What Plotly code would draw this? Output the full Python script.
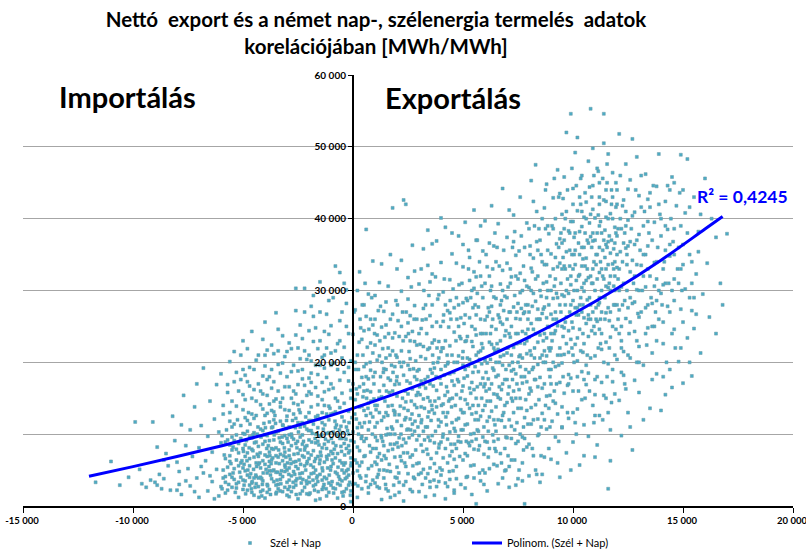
import plotly.graph_objects as go

# Net export vs. German solar + wind generation, values in thousand MWh: (x, y)
# x = net export (negative = import), y = solar + wind generation
band_far_import = [
    (-11.7,3.3),(-11.0,6.2),(-10.6,2.9),(-10.2,4.0),(-9.9,11.7),(-9.1,11.7),(-9.6,3.1),(-9.4,2.6),(-9.2,3.6),(-9.0,3.3),
    (-8.9,2.9),(-8.8,4.4),(-8.7,2.4),(-8.6,3.8),(-8.5,7.3),(-8.4,5.6),(-8.3,2.2),(-8.2,12.5),(-8.1,9.1),(-8.0,6.1),
    (-7.9,3.0),(-7.9,4.8),(-7.8,1.6),(-7.7,15.4),(-7.6,8.4),(-7.5,5.2),(-7.4,10.6),(-7.4,2.8),(-7.3,6.9),(-7.2,13.8),
    (-7.1,3.9),(-7.0,1.2),(-7.0,8.1),(-6.9,11.2),(-6.8,19.2),(-6.8,4.6),(-6.7,6.3),(-6.6,2.1),(-6.6,9.7),(-6.5,14.6),
    (-6.4,3.4),(-6.4,7.5),(-6.3,12.1),(-6.2,5.1),(-6.2,16.9),(-6.1,1.4),(-6.1,10.3),(-6.0,2.7),(-6.0,8.8),(-9.7,5.1),
    (-8.6,6.4),(-8.0,2.2),(-7.6,3.5),(-7.2,2.0),(-6.9,5.5),(-6.5,4.2),(-6.3,1.0),(-7.8,11.3),(-7.1,17.0),(-8.9,8.2),
]

band_mid_import = [
    (-5.9,3.9),(-5.9,12.8),(-5.8,6.6),(-5.8,1.8),(-5.7,9.2),(-5.7,15.8),(-5.6,4.4),(-5.6,20.1),(-5.5,2.6),(-5.5,7.8),
    (-5.4,21.5),(-5.4,11.4),(-5.4,5.2),(-5.3,3.1),(-5.3,13.9),(-5.2,8.7),(-5.2,1.2),(-5.1,17.6),(-5.1,6.0),(-5.0,10.1),
    (-5.0,3.6),(-5.0,23.0),(-4.9,4.9),(-4.9,14.8),(-4.8,2.2),(-4.8,7.4),(-4.8,11.9),(-4.7,19.3),(-4.7,5.6),(-4.6,24.3),
    (-4.6,3.2),(-4.6,9.5),(-4.5,1.5),(-4.5,16.2),(-4.5,6.8),(-4.4,12.6),(-4.4,4.1),(-4.3,8.3),(-4.3,21.0),(-4.3,2.7),
    (-4.2,10.7),(-4.2,5.3),(-4.1,18.1),(-4.1,3.5),(-4.1,13.5),(-4.0,7.1),(-4.0,1.1),(-4.0,25.6),(-3.9,4.6),(-3.9,9.8),
    (-3.9,15.4),(-3.8,2.3),(-3.8,6.2),(-3.8,11.7),(-3.7,22.4),(-3.7,3.8),(-3.7,8.0),(-3.6,17.3),(-3.6,5.0),(-3.6,13.1),
    (-3.5,1.7),(-3.5,10.3),(-3.5,26.9),(-3.4,6.8),(-3.4,3.0),(-3.4,19.7),(-3.3,8.9),(-3.3,14.4),(-3.3,4.4),(-3.2,2.0),
    (-3.2,11.3),(-3.2,23.7),(-3.1,7.5),(-3.1,5.7),(-3.1,16.6),(-3.0,3.3),(-3.0,9.4),(-3.0,12.5),
    (-5.6,7.0),(-5.3,9.9),(-5.1,4.0),(-4.9,8.5),(-4.7,2.9),(-4.4,6.0),(-4.2,2.0),(-4.0,9.0),(-3.9,6.9),(-3.7,10.9),
    (-3.5,4.7),(-3.3,7.2),(-3.1,2.6),(-5.7,5.4),(-5.5,11.0),(-4.8,4.3),(-4.5,10.2),(-4.3,3.9),(-4.1,8.6),(-3.8,4.9),
    (-3.6,9.2),(-3.4,2.4),(-3.2,6.3),(-3.0,5.0),(-5.2,3.3),(-4.6,7.9),(-4.0,5.8),(-3.5,8.1),(-5.8,8.9),(-4.9,12.3),
    (-4.2,14.1),(-3.6,12.0),(-3.3,18.5),(-5.4,17.3),(-4.4,20.3),(-3.9,21.7),(-3.1,20.8),(-5.0,19.0),(-4.1,23.2),(-3.4,24.6),
]

band_near_import = [
    (-2.9,1.3),(-2.9,7.8),(-2.9,13.3),(-2.8,4.2),(-2.8,10.0),(-2.8,21.9),(-2.7,2.6),(-2.7,6.1),(-2.7,16.0),(-2.6,30.3),
    (-2.6,8.7),(-2.6,3.5),(-2.6,12.2),(-2.5,5.2),(-2.5,18.8),(-2.5,1.0),(-2.4,9.6),(-2.4,25.2),(-2.4,3.9),(-2.3,7.0),
    (-2.3,14.5),(-2.3,2.1),(-2.2,30.3),(-2.2,11.1),(-2.2,5.6),(-2.1,20.4),(-2.1,3.1),(-2.1,8.4),(-2.0,13.0),(-2.0,1.6),
    (-2.0,6.6),(-1.9,27.8),(-1.9,4.5),(-1.9,10.5),(-1.9,17.2),(-1.8,2.8),(-1.8,7.7),(-1.8,22.9),(-1.7,12.4),(-1.7,5.0),
    (-1.7,0.8),(-1.6,15.3),(-1.6,9.0),(-1.6,3.4),(-1.5,19.6),(-1.5,6.4),(-1.5,31.2),(-1.4,2.3),(-1.4,11.6),(-1.4,8.1),
    (-1.3,24.3),(-1.3,4.0),(-1.3,14.0),(-1.2,6.9),(-1.2,1.4),(-1.2,17.9),(-1.1,10.2),(-1.1,3.2),(-1.1,28.6),(-1.0,5.5),
    (-1.0,12.8),(-1.0,21.3),(-0.9,2.5),(-0.9,8.8),(-0.9,16.4),(-0.8,33.4),(-0.8,4.7),(-0.8,10.9),(-0.7,7.3),(-0.7,1.1),
    (-0.7,19.0),(-0.6,13.7),(-0.6,3.7),(-0.6,25.8),(-0.5,6.0),(-0.5,9.4),(-0.5,15.7),(-0.4,2.0),(-0.4,22.1),(-0.4,11.8),
    (-0.3,4.9),(-0.3,8.0),(-0.3,30.1),(-0.2,17.4),(-0.2,2.9),(-0.2,13.2),(-0.1,6.7),(-0.1,0.6),(-0.1,20.2),
    (-2.9,5.3),(-2.8,2.0),(-2.7,9.3),(-2.6,6.2),(-2.5,11.6),(-2.4,7.8),(-2.3,4.6),(-2.2,2.6),(-2.1,10.7),(-2.0,9.2),
    (-1.9,7.1),(-1.8,11.4),(-1.7,3.0),(-1.6,6.9),(-1.5,9.7),(-1.4,5.3),(-1.3,8.6),(-1.2,3.8),(-1.1,12.0),(-1.0,7.6),
    (-0.9,5.9),(-0.8,2.4),(-0.7,9.9),(-0.6,6.3),(-0.5,3.5),(-0.4,8.7),(-0.3,11.0),(-0.2,4.3),(-0.1,9.1),(-2.8,15.0),
    (-2.5,14.1),(-2.2,16.8),(-1.9,13.8),(-1.6,18.3),(-1.3,15.9),(-1.0,17.0),(-0.7,14.6),(-0.4,18.6),(-0.1,15.0),(-2.7,19.6),
    (-2.3,23.3),(-2.0,21.0),(-1.7,24.8),(-1.4,20.7),(-1.1,23.9),(-0.8,21.6),(-0.5,27.0),(-0.2,24.0),(-2.6,27.2),(-1.8,29.3),
    (-1.2,26.7),(-0.6,32.5),(-0.3,28.2),(-2.9,9.9),(-2.4,1.7),(-1.5,1.0),(-0.9,12.9),(-0.2,7.4),(-2.1,5.9),(-1.6,12.6),
    (-1.2,10.1),(-0.5,1.9),
]

band_import_core = [
    (-5.95,2.4),(-5.85,7.1),(-5.75,10.6),(-5.65,3.0),(-5.55,5.9),(-5.45,8.2),(-5.35,1.9),(-5.25,12.0),(-5.15,4.7),(-5.05,6.3),
    (-4.95,2.9),(-4.85,9.1),(-4.75,13.0),(-4.65,4.5),(-4.55,7.7),(-4.45,2.6),(-4.35,10.0),(-4.25,6.0),(-4.15,3.8),(-4.05,11.5),
    (-3.95,5.1),(-3.85,8.4),(-3.75,1.6),(-3.65,6.7),(-3.55,12.6),(-3.45,3.6),(-3.35,9.5),(-3.25,4.9),(-3.15,7.0),(-3.05,10.8),
    (-2.95,2.3),(-2.85,6.5),(-2.75,11.9),(-2.65,4.4),(-2.55,8.1),(-2.45,13.4),(-2.35,3.2),(-2.25,9.0),(-2.15,5.0),(-2.05,7.4),
    (-1.95,1.8),(-1.85,10.1),(-1.75,6.2),(-1.65,3.9),(-1.55,12.1),(-1.45,7.0),(-1.35,2.6),(-1.25,9.3),(-1.15,5.3),(-1.05,13.6),
    (-0.95,3.4),(-0.85,7.9),(-0.75,11.3),(-0.65,4.1),(-0.55,8.3),(-0.45,1.4),(-0.35,6.0),(-0.25,10.5),(-0.15,3.3),(-0.05,12.3),
    (-5.9,5.0),(-5.7,2.2),(-5.5,9.6),(-5.3,6.4),(-5.1,11.2),(-4.9,3.5),(-4.7,6.6),(-4.5,12.2),(-4.3,5.8),(-4.1,2.2),
    (-3.9,3.0),(-3.7,13.3),(-3.5,6.0),(-3.3,11.8),(-3.1,9.8),(-2.9,3.6),(-2.7,12.8),(-2.5,7.3),(-2.3,9.9),(-2.1,1.7),
    (-1.9,11.9),(-1.7,8.8),(-1.5,4.4),(-1.3,6.1),(-1.1,1.9),(-0.9,10.3),(-0.7,3.1),(-0.5,12.4),(-0.3,2.4),(-0.1,5.6),
    (-5.8,4.1),(-5.6,11.8),(-5.4,3.7),(-5.2,7.4),(-5.0,5.3),(-4.8,10.4),(-4.6,1.9),(-4.4,8.9),(-4.2,4.0),(-4.0,12.6),
    (-3.8,9.1),(-3.6,3.4),(-3.4,10.4),(-3.2,8.7),(-3.0,1.5),(-2.8,8.4),(-2.6,2.9),(-2.4,11.0),(-2.2,7.8),(-2.0,4.0),
    (-1.8,5.4),(-1.6,10.9),(-1.4,13.0),(-1.2,8.0),(-1.0,2.9),(-0.8,6.7),(-0.6,9.4),(-0.4,4.6),(-0.2,10.0),(-0.1,2.1),
    (-5.95,9.8),(-5.6,6.2),(-5.3,2.5),(-5.0,8.0),(-4.7,4.0),(-4.4,3.1),(-4.1,6.3),(-3.8,7.5),(-3.5,2.9),(-3.2,4.1),
    (-2.9,11.0),(-2.6,5.5),(-2.3,8.6),(-2.0,11.9),(-1.7,6.6),(-1.4,3.6),(-1.1,7.1),(-0.8,13.1),(-0.5,5.0),(-0.2,8.4),
    (-4.95,5.8),(-4.55,9.9),(-4.15,1.4),(-3.75,4.3),(-3.35,5.9),(-2.95,8.9),(-2.55,3.8),(-2.15,12.4),(-1.75,2.2),(-1.35,10.7),
    (-0.95,6.4),(-0.55,11.1),(-0.15,7.7),(-5.45,4.6),(-3.05,6.8),(-1.55,8.5),(-0.35,3.8),(-2.45,6.4),(-4.35,7.2),(-3.65,11.0),
]

band_import_dense = [
    (-4.98,7.6),(-4.88,1.7),(-4.78,5.0),(-4.68,11.4),(-4.58,3.4),(-4.48,8.8),(-4.38,5.5),(-4.28,1.2),(-4.18,9.6),(-4.08,4.6),
    (-3.98,10.9),(-3.88,2.8),(-3.78,7.0),(-3.68,4.9),(-3.58,9.9),(-3.48,1.9),(-3.38,7.8),(-3.28,3.1),(-3.18,11.2),(-3.08,5.4),
    (-2.98,6.0),(-2.88,2.7),(-2.78,9.6),(-2.68,7.2),(-2.58,1.6),(-2.48,10.3),(-2.38,5.8),(-2.28,3.7),(-2.18,8.2),(-2.08,6.2),
    (-1.98,3.3),(-1.88,8.9),(-1.78,4.6),(-1.68,10.0),(-1.58,2.0),(-1.48,7.5),(-1.38,4.9),(-1.28,11.3),(-1.18,6.5),(-1.08,4.3),
    (-0.98,9.4),(-0.88,1.8),(-0.78,8.4),(-0.68,5.4),(-0.58,2.9),(-0.48,10.2),(-0.38,7.1),(-0.28,4.0),(-0.18,11.6),(-0.08,6.0),
    (-4.92,10.0),(-4.72,8.1),(-4.52,5.1),(-4.32,11.0),(-4.12,3.0),(-3.92,8.0),(-3.72,5.9),(-3.52,11.5),(-3.32,2.1),(-3.12,8.1),
    (-2.92,4.4),(-2.72,3.3),(-2.52,9.0),(-2.32,11.6),(-2.12,3.5),(-1.92,5.7),(-1.72,9.4),(-1.52,5.9),(-1.32,3.0),(-1.12,9.0),
    (-0.92,7.3),(-0.72,4.5),(-0.52,7.6),(-0.32,9.3),(-0.12,1.5),(-4.82,6.3),(-4.42,4.3),(-4.02,9.9),(-3.62,7.9),(-3.22,9.6),
    (-2.82,5.9),(-2.42,4.5),(-2.02,10.5),(-1.62,4.2),(-1.22,2.4),(-0.82,11.8),(-0.42,5.7),(-0.02,3.0),(-4.62,2.4),(-4.22,7.4),
    (-3.82,5.5),(-3.42,4.7),(-3.02,11.9),(-2.62,10.9),(-2.22,6.8),(-1.82,3.6),(-1.42,9.9),(-1.02,5.0),(-0.62,10.6),(-0.22,5.1),
    (-5.4,9.1),(-5.2,5.6),(-5.0,2.3),(-5.8,3.3),(-5.6,8.5),(-5.5,4.0),(-5.3,7.9),(-5.1,9.4),(-4.9,6.9),(-4.7,9.6),
    (-4.5,3.9),(-4.3,6.9),(-4.1,10.5),(-3.9,1.9),(-3.7,6.4),(-3.5,7.0),(-3.3,3.7),(-3.1,4.8),(-2.9,7.0),(-2.7,4.8),
]

band_import_upper = [
    (-5.5,14.6),(-5.2,16.0),(-4.9,18.2),(-4.6,15.0),(-4.3,17.0),(-4.0,19.5),(-3.8,14.2),(-3.6,21.2),(-3.4,16.0),(-3.2,15.0),
    (-3.0,18.0),(-2.9,22.7),(-2.7,14.3),(-2.5,16.9),(-2.3,19.0),(-2.1,15.4),(-2.0,24.4),(-1.9,18.5),(-1.7,16.5),(-1.6,21.9),
    (-1.4,14.8),(-1.3,19.2),(-1.1,16.2),(-1.0,25.1),(-0.9,19.9),(-0.8,15.0),(-0.7,22.6),(-0.6,17.5),(-0.5,20.6),(-0.4,14.3),
    (-0.3,25.0),(-0.2,19.3),(-0.1,16.1),(-4.8,21.9),(-4.2,16.0),(-3.7,19.0),(-3.0,21.5),(-2.4,20.5),(-1.8,26.4),(-1.2,22.0),
    (-0.6,23.0),(-2.6,23.8),(-3.9,17.6),(-2.2,27.0),(-1.5,27.0),(-0.9,29.0),(-0.4,31.0),(-5.0,15.5),(-3.3,13.8),(-1.9,15.6),
    (-5.9,14.0),(-5.6,13.0),(-5.3,18.6),(-5.0,13.4),(-4.7,16.7),(-4.4,14.6),(-4.1,15.6),(-3.8,18.0),(-3.5,14.9),(-3.2,19.9),
    (-2.9,16.6),(-2.6,15.6),(-2.3,17.7),(-2.0,15.9),(-1.7,19.6),(-1.4,17.2),(-1.1,13.9),(-4.6,12.8),(-3.9,12.9),(-3.1,13.4),
    (-2.4,13.0),(-1.6,14.1),(-1.2,12.8),(-5.1,21.0),(-4.5,19.0),(-3.7,16.4),(-2.8,18.7),(-2.2,21.6),(-1.5,23.0),(-1.0,19.6),
    (-6.0,18.4),(-5.7,16.9),(-4.0,21.0),(-3.4,21.6),(-2.5,22.0),(-1.3,21.0),(-4.8,17.3),(-3.6,14.6),(-2.0,17.8),(-1.9,20.2),
]

band_export_0_3 = [
    (0.1,3.1),(0.1,14.8),(0.1,27.3),(0.2,8.2),(0.2,21.0),(0.2,1.2),(0.3,11.5),(0.3,32.6),(0.3,5.6),(0.4,17.9),
    (0.4,2.4),(0.4,9.7),(0.5,24.4),(0.5,6.9),(0.5,13.3),(0.6,38.5),(0.6,4.2),(0.6,19.8),(0.7,10.6),(0.7,29.5),
    (0.7,1.8),(0.8,15.9),(0.8,7.5),(0.8,22.7),(0.9,3.6),(0.9,12.4),(0.9,34.1),(1.0,6.1),(1.0,18.6),(1.0,26.0),
    (1.1,9.1),(1.1,2.7),(1.1,14.0),(1.2,31.1),(1.2,5.0),(1.2,20.9),(1.3,11.9),(1.3,0.9),(1.3,24.9),(1.4,8.4),
    (1.4,16.8),(1.4,3.9),(1.5,28.4),(1.5,13.0),(1.5,6.6),(1.6,22.0),(1.6,2.1),(1.6,10.0),(1.7,35.0),(1.7,17.5),
    (1.7,4.8),(1.8,41.5),(1.8,7.9),(1.8,26.7),(1.9,12.7),(1.9,1.5),(1.9,19.4),(2.0,33.0),(2.0,5.4),(2.0,15.3),
    (2.1,9.5),(2.1,23.6),(2.1,3.3),(2.2,29.9),(2.2,11.2),(2.2,6.3),(2.3,42.6),(2.3,18.2),(2.3,0.7),(2.4,42.0),
    (2.4,14.5),(2.4,8.8),(2.5,25.5),(2.5,4.5),(2.5,31.8),(2.6,12.1),(2.6,2.3),(2.6,20.5),(2.7,7.1),(2.7,36.3),
    (2.7,16.3),(2.8,27.9),(2.8,10.4),(2.8,3.8),(2.9,22.4),(2.9,5.9),(2.9,13.7),
    (0.1,6.4),(0.2,10.9),(0.3,16.6),(0.4,23.2),(0.5,9.0),(0.6,12.6),(0.7,5.2),(0.8,18.9),(0.9,8.0),(1.0,11.0),
    (1.1,20.3),(1.2,7.3),(1.3,15.2),(1.4,27.1),(1.5,9.9),(1.6,13.9),(1.7,8.6),(1.8,21.6),(1.9,6.8),(2.0,11.8),
    (2.1,17.0),(2.2,25.0),(2.3,9.3),(2.4,5.5),(2.5,15.6),(2.6,23.0),(2.7,11.4),(2.8,18.0),(2.9,9.2),(0.2,30.0),
    (0.6,26.4),(1.0,29.3),(1.3,33.7),(1.6,30.6),(1.9,24.1),(2.2,34.2),(2.5,28.8),(2.8,32.7),(0.4,13.9),(0.9,21.3),
    (1.4,19.1),(1.8,16.0),(2.3,20.0),(2.7,24.3),(0.3,7.7),(0.8,3.0),(1.2,2.5),(1.7,1.2),(2.1,1.9),(2.6,6.8),
    (0.5,19.4),(1.1,23.8),(1.5,25.2),(2.0,20.7),(2.4,12.3),(2.9,17.6),(0.7,14.3),(1.3,9.5),(1.9,13.1),(2.5,10.7),
    (0.0,17.0),(0.0,10.3),(0.0,23.9),(0.0,4.6),
]

band_export_core_a = [
    (0.05,8.9),(0.15,12.1),(0.25,19.0),(0.35,3.9),(0.45,15.2),(0.55,7.0),(0.65,22.1),(0.75,11.7),(0.85,5.6),(0.95,17.0),
    (1.05,13.4),(1.15,4.4),(1.25,18.0),(1.35,9.0),(1.45,23.5),(1.55,4.9),(1.65,15.8),(1.75,11.0),(1.85,2.9),(1.95,21.0),
    (2.05,8.2),(2.15,13.9),(2.25,27.0),(2.35,6.0),(2.45,17.4),(2.55,9.5),(2.65,14.6),(2.75,4.0),(2.85,20.2),(2.95,11.0),
    (3.05,15.5),(3.15,3.0),(3.25,9.2),(3.35,24.0),(3.45,13.1),(3.55,6.6),(3.65,19.9),(3.75,10.4),(3.85,28.8),(3.95,5.3),
    (0.1,20.0),(0.2,4.9),(0.3,13.8),(0.4,6.1),(0.5,28.0),(0.6,9.4),(0.7,17.7),(0.8,12.9),(0.9,25.2),(1.0,3.2),
    (1.1,11.6),(1.2,16.0),(1.3,6.4),(1.4,12.4),(1.5,19.0),(1.6,7.7),(1.7,26.0),(1.8,10.7),(1.9,16.9),(2.0,3.9),
    (2.1,12.7),(2.2,19.4),(2.3,7.4),(2.4,23.6),(2.5,13.3),(2.6,17.1),(2.7,9.9),(2.8,14.1),(2.9,26.0),(3.0,12.6),
    (3.1,17.4),(3.2,10.4),(3.3,20.5),(3.4,15.1),(3.5,5.3),(3.6,25.0),(3.7,8.8),(3.8,13.8),(3.9,22.9),(4.0,8.9),
    (0.05,27.0),(0.25,10.0),(0.45,21.0),(0.65,16.1),(0.85,29.0),(1.05,8.0),(1.25,27.8),(1.45,14.6),(1.65,5.8),(1.85,13.3),
    (2.05,25.8),(2.25,15.0),(2.45,10.6),(2.65,30.5),(2.85,7.8),(3.05,22.5),(3.25,13.6),(3.45,29.3),(3.65,16.7),(3.85,20.0),
    (0.15,16.3),(0.55,31.0),(0.95,14.9),(1.35,21.9),(1.75,19.6),(2.15,6.9),(2.55,21.5),(2.95,15.8),(3.35,7.9),(3.75,31.9),
    (0.35,24.8),(0.75,8.4),(1.15,27.2),(1.55,10.8),(1.95,28.6),(2.35,12.0),(2.75,19.1),(3.15,25.9),(3.55,11.9),(3.95,17.8),
    (0.2,15.6),(0.6,18.0),(1.0,22.4),(1.4,5.0),(1.8,23.4),(2.2,21.6),(2.6,26.5),(3.0,9.8),(3.4,33.5),(3.8,4.8),
    (0.4,11.0),(0.8,26.0),(1.2,13.0),(1.6,17.8),(2.0,18.0),(2.4,3.4),(2.8,22.9),(3.2,14.9),(3.6,28.0),(4.0,21.5),
]

band_export_dense_a = [
    (0.08,12.8),(0.18,6.0),(0.28,22.8),(0.38,9.4),(0.48,17.0),(0.58,3.4),(0.68,13.6),(0.78,20.0),(0.88,10.0),(0.98,24.0),
    (1.08,5.8),(1.18,15.0),(1.28,9.8),(1.38,18.6),(1.48,3.0),(1.58,12.6),(1.68,21.0),(1.78,14.0),(1.88,8.6),(1.98,17.4),
    (2.08,4.6),(2.18,10.0),(2.28,23.0),(2.38,16.0),(2.48,7.4),(2.58,19.0),(2.68,12.8),(2.78,26.0),(2.88,15.4),(2.98,4.4),
    (3.08,20.8),(3.18,7.6),(3.28,17.6),(3.38,11.0),(3.48,22.0),(3.58,14.0),(3.68,3.6),(3.78,18.0),(3.88,12.0),(3.98,25.0),
    (4.08,9.6),(4.18,15.4),(4.28,21.0),(4.38,4.8),(4.48,13.8),(4.58,18.6),(4.68,23.0),(4.78,9.0),(4.88,15.0),(4.98,20.6),
    (0.12,19.0),(0.32,26.0),(0.52,11.6),(0.72,24.6),(0.92,18.0),(1.12,6.8),(1.32,20.0),(1.52,16.0),(1.72,10.0),(1.92,4.0),
    (2.12,20.0),(2.32,13.6),(2.52,24.0),(2.72,5.6),(2.92,18.8),(3.12,12.0),(3.32,26.0),(3.52,19.0),(3.72,14.6),(3.92,8.6),
    (4.12,26.6),(4.32,20.0),(4.52,15.0),(4.72,26.0),(4.92,10.6),(0.22,2.8),(0.62,15.0),(1.02,9.6),(1.42,7.0),(1.82,18.6),
    (2.22,8.4),(2.62,10.6),(3.02,16.6),(3.42,9.6),(3.82,22.0),(4.22,12.4),(4.62,8.6),(4.98,13.0),(0.42,28.0),(0.82,14.6),
    (1.22,23.0),(1.62,24.0),(2.02,28.0),(2.42,27.0),(2.82,11.8),(3.22,30.0),(3.62,21.0),(4.02,14.0),(4.42,28.6),(4.82,30.8),
    (0.3,4.2),(0.7,2.6),(1.1,4.0),(1.5,2.4),(1.9,10.0),(2.3,2.9),(2.7,2.0),(3.1,4.6),(3.5,2.6),(3.9,3.4),
    (4.3,2.7),(4.7,3.8),(0.5,16.0),(1.0,14.0),(1.5,20.6),(2.0,8.8),(2.5,19.6),(3.0,24.0),(3.5,17.0),(4.0,19.0),
]

band_export_3_6 = [
    (3.0,2.0),(3.0,19.0),(3.0,30.9),(3.1,8.5),(3.1,24.7),(3.1,13.8),(3.2,5.1),(3.2,35.8),(3.2,16.9),(3.3,11.0),
    (3.3,28.0),(3.3,1.3),(3.4,21.8),(3.4,7.2),(3.4,38.4),(3.5,14.6),(3.5,3.4),(3.5,26.5),(3.6,9.8),(3.6,32.3),
    (3.6,18.5),(3.7,5.9),(3.7,23.1),(3.7,12.9),(3.8,36.9),(3.8,2.7),(3.8,16.1),(3.9,29.4),(3.9,8.1),(3.9,20.6),
    (4.0,11.7),(4.0,4.3),(4.0,33.9),(4.1,25.7),(4.1,14.2),(4.1,6.7),(4.2,38.8),(4.2,19.5),(4.2,1.0),(4.3,9.3),
    (4.3,27.2),(4.3,13.0),(4.4,3.7),(4.4,22.3),(4.4,31.5),(4.5,7.6),(4.5,17.4),(4.5,35.1),(4.6,10.8),(4.6,24.2),
    (4.6,2.2),(4.7,15.5),(4.7,29.0),(4.7,5.5),(4.8,37.6),(4.8,20.9),(4.8,12.2),(4.9,8.9),(4.9,26.2),(4.9,3.0),
    (5.0,33.3),(5.0,16.7),(5.0,6.4),(5.1,22.9),(5.1,11.3),(5.1,39.5),(5.2,4.1),(5.2,18.1),(5.2,28.6),(5.3,13.6),
    (5.3,8.4),(5.3,34.6),(5.4,25.0),(5.4,1.6),(5.4,19.9),(5.5,10.1),(5.5,30.3),(5.5,5.7),(5.6,15.0),(5.6,37.0),
    (5.6,0.3),(5.7,21.4),(5.7,7.8),(5.7,27.7),(5.8,12.5),(5.8,3.5),(5.8,32.0),(5.9,17.8),(5.9,9.6),(5.9,24.0),
    (3.0,6.0),(3.1,11.6),(3.2,22.2),(3.3,16.4),(3.4,4.5),(3.5,9.1),(3.6,13.4),(3.7,19.2),(3.8,7.4),(3.9,11.1),
    (4.0,17.0),(4.1,22.0),(4.2,8.0),(4.3,15.9),(4.4,10.3),(4.5,21.0),(4.6,6.5),(4.7,12.0),(4.8,17.3),(4.9,23.3),
    (5.0,10.6),(5.1,14.8),(5.2,7.0),(5.3,20.4),(5.4,12.8),(5.5,16.2),(5.6,9.3),(5.7,18.7),(5.8,26.0),(5.9,13.3),
    (3.2,27.5),(3.5,31.2),(3.8,25.6),(4.1,29.8),(4.4,26.9),(4.7,33.8),(5.0,28.3),(5.3,31.4),(5.6,26.6),(5.9,35.5),
    (3.4,18.0),(3.9,15.0),(4.3,19.8),(4.8,9.7),(5.2,23.6),(5.7,14.0),(3.1,33.0),(3.6,36.5),(4.0,40.1),(4.5,38.0),
    (5.0,36.4),(5.5,41.2),(5.8,39.0),(3.3,3.9),(3.7,1.5),(4.2,3.2),(4.6,1.8),(5.1,2.5),(5.5,3.9),(5.9,5.0),
    (3.6,22.7),(4.1,10.0),(4.6,27.6),(5.1,19.0),(5.6,21.0),(3.4,12.4),(4.4,14.9),(5.4,9.0),
]

band_export_core_b = [
    (4.05,5.0),(4.15,18.2),(4.25,11.3),(4.35,24.9),(4.45,8.6),(4.55,30.2),(4.65,14.0),(4.75,20.0),(4.85,6.9),(4.95,16.0),
    (5.05,25.4),(5.15,9.0),(5.25,33.0),(5.35,15.7),(5.45,22.2),(5.55,12.0),(5.65,29.6),(5.75,4.6),(5.85,19.8),(5.95,11.0),
    (6.05,24.0),(6.15,17.7),(6.25,30.0),(6.35,9.9),(6.45,21.6),(6.55,15.5),(6.65,33.4),(6.75,11.9),(6.85,27.2),(6.95,19.0),
    (7.05,7.0),(7.15,23.5),(7.25,14.6),(7.35,29.3),(7.45,11.6),(7.55,35.5),(7.65,18.0),(7.75,26.8),(7.85,14.8),(7.95,24.6),
    (4.1,13.0),(4.2,28.0),(4.3,6.0),(4.4,18.4),(4.5,11.6),(4.6,20.0),(4.7,8.0),(4.8,28.0),(4.9,13.4),(5.0,21.5),
    (5.1,7.3),(5.2,14.2),(5.3,26.2),(5.4,17.2),(5.5,7.9),(5.6,23.8),(5.7,10.4),(5.8,17.0),(5.9,29.0),(6.0,9.0),
    (6.1,19.9),(6.2,12.4),(6.3,25.0),(6.4,15.6),(6.5,28.9),(6.6,12.0),(6.7,23.0),(6.8,17.0),(6.9,8.0),(7.0,26.0),
    (7.1,12.0),(7.2,21.0),(7.3,27.7),(7.4,15.0),(7.5,31.6),(7.6,19.4),(7.7,9.6),(7.8,22.6),(7.9,13.3),(8.0,30.4),
    (4.05,22.0),(4.25,16.6),(4.45,26.0),(4.65,10.4),(4.85,23.6),(5.05,13.0),(5.25,19.5),(5.45,27.6),(5.65,16.6),(5.85,22.6),
    (6.05,16.0),(6.25,20.4),(6.45,11.3),(6.65,26.2),(6.85,21.0),(7.05,30.5),(7.25,17.6),(7.45,22.6),(7.65,27.5),(7.85,19.0),
    (4.15,31.6),(4.55,4.9),(4.95,31.0),(5.35,5.6),(5.75,34.0),(6.15,6.8),(6.55,36.0),(6.95,5.0),(7.35,38.2),(7.75,7.8),
    (4.35,14.6),(4.75,17.6),(5.15,28.9),(5.55,19.4),(5.95,16.6),(6.35,19.2),(6.75,16.2),(7.15,33.0),(7.55,16.2),(7.95,28.0),
    (4.2,23.0),(4.6,16.8),(5.0,19.6),(5.4,22.9),(5.8,21.6),(6.2,27.0),(6.6,21.8),(7.0,17.6),(7.4,24.0),(7.8,31.4),
    (4.4,7.0),(4.8,25.0),(5.2,11.4),(5.6,31.9),(6.0,25.9),(6.4,9.0),(6.8,30.0),(7.2,9.4),(7.6,26.0),(8.0,18.6),
]

band_export_dense_b = [
    (5.05,17.8),(5.15,23.0),(5.25,8.8),(5.35,29.0),(5.45,14.0),(5.55,24.6),(5.65,10.6),(5.75,20.4),(5.85,30.6),(5.95,7.2),
    (6.05,18.6),(6.15,27.6),(6.25,14.6),(6.35,33.0),(6.45,8.0),(6.55,22.6),(6.65,16.6),(6.75,28.6),(6.85,13.0),(6.95,24.4),
    (7.05,15.6),(7.15,31.0),(7.25,20.0),(7.35,10.6),(7.45,27.0),(7.55,20.8),(7.65,13.6),(7.75,33.4),(7.85,24.0),(7.95,11.4),
    (8.05,21.6),(8.15,32.6),(8.25,17.6),(8.35,26.0),(8.45,10.0),(8.55,35.0),(8.65,23.0),(8.75,14.0),(8.85,30.0),(8.95,18.0),
    (5.1,26.6),(5.3,16.4),(5.5,32.6),(5.7,12.0),(5.9,22.0),(6.1,14.6),(6.3,30.6),(6.5,18.0),(6.7,25.6),(6.9,14.0),
    (7.1,24.0),(7.3,19.0),(7.5,9.0),(7.7,30.0),(7.9,23.0),(8.1,16.0),(8.3,31.6),(8.5,26.0),(8.7,12.0),(8.9,28.0),
    (5.2,20.6),(5.4,30.0),(5.6,13.0),(5.8,24.0),(6.0,17.0),(6.2,32.0),(6.4,22.0),(6.6,26.6),(6.8,19.6),(7.0,29.0),
    (7.2,15.0),(7.4,32.0),(7.6,21.0),(7.8,18.0),(8.0,27.0),(8.2,24.6),(8.4,16.6),(8.6,21.0),(8.8,33.6),(9.0,24.0),
    (5.25,35.6),(5.65,37.0),(6.05,35.0),(6.45,38.0),(6.85,35.6),(7.25,36.0),(7.65,37.6),(8.05,36.2),(8.45,38.6),(8.85,39.0),
    (5.35,10.0),(5.75,8.4),(6.15,10.4),(6.55,5.6),(6.95,9.6),(7.35,6.4),(7.75,11.0),(8.15,8.0),(8.55,7.0),(8.95,11.0),
    (5.45,18.6),(5.85,15.0),(6.25,24.0),(6.65,20.0),(7.05,22.0),(7.45,17.0),(7.85,28.0),(8.25,20.6),(8.65,27.4),(8.95,21.6),
    (5.15,4.0),(5.95,3.0),(6.75,6.0),(7.55,5.0),(8.35,4.4),(5.55,28.0),(6.35,26.0),(7.15,27.0),(7.95,26.0),(8.75,20.0),
]

band_export_6_9 = [
    (6.0,4.6),(6.0,20.3),(6.0,31.0),(6.1,11.8),(6.1,26.4),(6.1,2.1),(6.2,16.3),(6.2,36.6),(6.2,8.0),(6.3,22.5),
    (6.3,13.2),(6.3,41.8),(6.4,5.8),(6.4,29.1),(6.4,18.9),(6.5,10.4),(6.5,34.0),(6.5,24.6),(6.6,3.1),(6.6,15.1),
    (6.6,39.3),(6.7,20.8),(6.7,7.3),(6.7,28.0),(6.8,12.6),(6.8,32.8),(6.8,44.2),(6.9,17.6),(6.9,4.9),(6.9,23.7),
    (7.0,9.5),(7.0,37.4),(7.0,14.4),(7.1,27.0),(7.1,2.6),(7.1,19.6),(7.2,31.9),(7.2,11.1),(7.2,6.4),(7.3,22.1),
    (7.3,40.5),(7.3,16.0),(7.4,8.7),(7.4,26.1),(7.4,34.9),(7.5,13.6),(7.5,3.8),(7.5,20.0),(7.6,29.7),(7.6,10.0),
    (7.6,43.0),(7.7,17.1),(7.7,6.0),(7.7,24.3),(7.8,36.0),(7.8,12.3),(7.8,0.3),(7.9,21.2),(7.9,8.2),(7.9,30.6),
    (8.0,15.6),(8.0,38.6),(8.0,4.2),(8.1,25.4),(8.1,11.4),(8.1,33.1),(8.2,19.3),(8.2,7.0),(8.2,42.4),(8.3,28.5),
    (8.3,14.1),(8.3,47.5),(8.4,22.8),(8.4,9.8),(8.4,35.6),(8.5,3.3),(8.5,17.9),(8.5,30.0),(8.6,12.9),(8.6,40.0),
    (8.6,26.8),(8.7,6.8),(8.7,21.6),(8.7,33.6),(8.8,15.3),(8.8,44.8),(8.8,10.7),(8.9,24.9),(8.9,37.9),(8.9,19.0),
    (6.0,14.0),(6.1,8.9),(6.2,22.8),(6.3,17.0),(6.4,12.0),(6.5,20.0),(6.6,9.3),(6.7,14.9),(6.8,25.3),(6.9,11.0),
    (7.0,21.3),(7.1,16.6),(7.2,25.0),(7.3,13.0),(7.4,18.4),(7.5,28.2),(7.6,15.0),(7.7,20.6),(7.8,9.4),(7.9,17.3),
    (8.0,23.5),(8.1,13.7),(8.2,29.6),(8.3,17.6),(8.4,12.1),(8.5,23.8),(8.6,16.4),(8.7,27.7),(8.8,20.9),(8.9,13.6),
    (6.1,33.3),(6.4,36.2),(6.7,30.9),(7.0,33.8),(7.3,36.8),(7.6,32.4),(7.9,39.4),(8.2,34.5),(8.5,37.0),(8.8,31.2),
    (6.2,5.2),(6.5,7.6),(6.8,3.9),(7.1,5.5),(7.4,2.9),(7.7,3.5),(8.0,8.6),(8.3,5.0),(8.6,4.4),(8.9,8.0),
    (6.3,27.8),(6.9,29.2),(7.5,24.0),(8.1,21.0),(8.7,24.0),(6.6,18.2),(7.2,18.8),(7.8,27.0),(8.4,19.7),(6.0,39.7),
    (7.1,41.2),(8.1,45.3),(8.7,41.5),(6.5,13.8),(7.6,22.7),(8.8,26.2),
]

band_export_core_c = [
    (8.05,16.4),(8.15,27.8),(8.25,22.0),(8.35,36.8),(8.45,14.8),(8.55,29.2),(8.65,20.0),(8.75,38.6),(8.85,25.0),(8.95,32.0),
    (9.05,11.8),(9.15,24.0),(9.25,36.5),(9.35,19.6),(9.45,31.0),(9.55,23.6),(9.65,40.0),(9.75,16.8),(9.85,27.0),(9.95,35.0),
    (10.05,20.0),(10.15,31.4),(10.25,26.6),(10.35,42.0),(10.45,21.4),(10.55,33.4),(10.65,28.7),(10.75,39.4),(10.85,24.4),(10.95,34.0),
    (11.05,27.6),(11.15,40.5),(11.25,22.6),(11.35,35.6),(11.45,29.0),(11.55,45.0),(11.65,25.8),(11.75,37.0),(11.85,30.6),(11.95,41.6),
    (8.1,30.0),(8.2,12.0),(8.3,24.0),(8.4,32.0),(8.5,20.6),(8.6,34.0),(8.7,17.0),(8.8,29.0),(8.9,22.0),(9.0,30.0),
    (9.1,33.0),(9.2,27.0),(9.3,21.0),(9.4,33.8),(9.5,25.0),(9.6,37.0),(9.7,30.0),(9.8,24.4),(9.9,39.6),(10.0,28.6),
    (10.1,38.0),(10.2,23.4),(10.3,35.0),(10.4,30.4),(10.5,40.2),(10.6,31.4),(10.7,36.6),(10.8,32.0),(10.9,27.0),(11.0,37.0),
    (11.1,31.6),(11.2,39.0),(11.3,30.0),(11.4,42.6),(11.5,33.0),(11.6,27.6),(11.7,35.2),(11.8,40.0),(11.9,32.0),(12.0,28.0),
    (8.05,35.0),(8.25,39.0),(8.45,26.0),(8.65,31.0),(8.85,35.6),(9.05,39.0),(9.25,17.0),(9.45,38.0),(9.65,28.0),(9.85,33.4),
    (10.05,37.4),(10.25,16.0),(10.45,34.4),(10.65,21.0),(10.85,43.0),(11.05,33.6),(11.25,26.0),(11.45,38.4),(11.65,22.0),(11.85,35.8),
    (8.15,19.0),(8.55,11.0),(8.95,15.4),(9.35,9.0),(9.75,13.0),(10.15,10.0),(10.55,15.0),(10.95,11.6),(11.35,12.0),(11.75,14.4),
    (8.35,41.0),(8.75,44.0),(9.15,45.6),(9.55,42.8),(9.95,47.0),(10.35,45.6),(10.75,44.4),(11.15,46.6),(11.55,47.6),(11.95,45.0),
    (8.4,27.4),(8.8,23.4),(9.2,34.6),(9.6,29.2),(10.0,24.8),(10.4,36.0),(10.8,26.0),(11.2,29.0),(11.6,33.6),(12.0,35.0),
]

band_export_9_12 = [
    (9.0,6.5),(9.0,22.0),(9.0,35.1),(9.1,14.6),(9.1,28.9),(9.1,42.9),(9.2,9.6),(9.2,19.4),(9.2,31.6),(9.3,46.8),
    (9.3,25.1),(9.3,12.8),(9.4,37.2),(9.4,4.0),(9.4,17.2),(9.5,29.4),(9.5,10.9),(9.5,40.6),(9.6,21.1),(9.6,33.4),
    (9.6,15.7),(9.7,52.0),(9.7,26.3),(9.7,7.4),(9.8,38.3),(9.8,18.3),(9.8,12.2),(9.9,54.6),(9.9,30.8),(9.9,23.2),
    (10.0,44.2),(10.0,16.0),(10.0,8.9),(10.1,49.2),(10.1,27.6),(10.1,35.6),(10.2,20.2),(10.2,41.1),(10.2,13.5),(10.3,32.2),
    (10.3,5.7),(10.3,24.6),(10.4,46.0),(10.4,18.7),(10.4,38.9),(10.5,29.9),(10.5,11.3),(10.5,22.6),(10.6,42.3),(10.6,34.5),
    (10.6,16.9),(10.7,26.0),(10.7,48.0),(10.7,9.7),(10.8,55.3),(10.8,37.5),(10.8,20.6),(10.9,31.0),(10.9,14.0),(10.9,44.6),
    (11.0,24.0),(11.0,40.1),(11.0,6.8),(11.1,35.0),(11.1,18.0),(11.1,47.0),(11.2,28.3),(11.2,12.6),(11.2,42.0),(11.3,21.8),
    (11.3,38.0),(11.3,33.0),(11.4,54.6),(11.4,50.5),(11.4,15.4),(11.5,26.9),(11.5,44.0),(11.5,36.4),(11.6,2.4),(11.6,30.4),
    (11.6,19.8),(11.7,40.7),(11.7,23.5),(11.7,10.6),(11.8,46.4),(11.8,33.7),(11.8,17.3),(11.9,28.0),(11.9,38.8),(11.9,21.0),
    (9.0,26.7),(9.1,20.0),(9.2,24.4),(9.3,33.3),(9.4,28.0),(9.5,19.9),(9.6,24.8),(9.7,35.4),(9.8,29.6),(9.9,17.8),
    (10.0,33.0),(10.1,22.5),(10.2,30.0),(10.3,38.2),(10.4,27.0),(10.5,36.0),(10.6,25.4),(10.7,31.8),(10.8,28.0),(10.9,36.9),
    (11.0,30.0),(11.1,25.7),(11.2,36.0),(11.3,27.0),(11.4,31.6),(11.5,40.2),(11.6,36.8),(11.7,30.0),(11.8,25.0),(11.9,34.0),
    (9.1,38.6),(9.4,43.5),(9.7,41.0),(10.0,39.6),(10.3,43.0),(10.6,40.0),(10.9,41.3),(11.2,45.0),(11.5,42.4),(11.8,43.0),
    (9.2,14.3),(9.5,13.8),(9.8,21.4),(10.1,11.6),(10.4,14.8),(10.7,18.5),(11.0,15.5),(11.3,17.2),(11.6,13.0),(11.9,15.6),
    (9.3,6.0),(9.9,5.0),(10.5,7.0),(11.1,8.5),(11.7,6.3),(9.6,45.8),(10.2,51.3),(10.9,49.8),(11.6,49.0),(9.0,17.0),
    (10.0,21.0),(11.0,20.9),(9.5,33.0),(10.5,26.2),(11.5,22.8),(11.2,32.5),
]

band_export_dense_c = [
    (9.05,23.0),(9.15,30.6),(9.25,26.0),(9.35,36.0),(9.45,21.0),(9.55,34.6),(9.65,25.6),(9.75,31.6),(9.85,38.0),(9.95,22.0),
    (10.05,30.0),(10.15,26.6),(10.25,36.6),(10.35,29.0),(10.45,24.0),(10.55,38.0),(10.65,33.0),(10.75,29.0),(10.85,36.0),(10.95,25.0),
    (11.05,35.0),(11.15,28.0),(11.25,39.6),(11.35,32.0),(11.45,26.0),(11.55,36.0),(11.65,31.0),(11.75,42.0),(11.85,28.0),(11.95,38.0),
    (12.05,31.6),(12.15,40.0),(12.25,34.0),(12.35,38.0),(12.45,30.0),(9.1,26.0),(9.3,29.0),(9.5,36.6),(9.7,22.6),(9.9,28.0),
    (10.1,33.6),(10.3,28.0),(10.5,31.0),(10.7,23.6),(10.9,33.0),(11.1,38.0),(11.3,24.0),(11.5,30.6),(11.7,27.0),(11.9,36.6),
    (12.1,33.0),(12.3,36.6),(12.5,27.6),(9.2,40.0),(9.6,38.6),(10.0,42.0),(10.4,41.0),(10.8,40.6),(11.2,43.0),(11.6,40.0),
    (12.0,42.0),(12.4,39.0),(9.0,19.0),(9.4,22.0),(9.8,17.0),(10.2,18.0),(10.6,19.6),(11.0,17.6),(11.4,20.0),(11.8,19.0),
    (12.2,22.0),(9.15,16.0),(9.55,18.0),(9.95,25.6),(10.35,21.6),(10.75,16.0),(11.15,22.0),(11.55,18.0),(11.95,24.6),(12.35,17.0),
    (9.25,29.6),(9.65,33.0),(10.05,35.0),(10.45,28.0),(10.85,31.0),(11.25,34.0),(11.65,37.6),(12.05,38.6),(12.45,35.0),(9.35,43.0),
    (9.75,44.0),(10.15,44.6),(10.55,43.6),(10.95,46.0),(11.35,45.6),(11.75,44.0),(12.15,46.0),(9.45,27.0),(9.85,35.6),(10.25,32.0),
    (10.65,37.0),(11.05,26.0),(11.45,34.6),(11.85,33.0),(12.25,28.0),(9.5,11.0),(10.0,13.0),(10.5,17.6),(11.0,12.6),(11.5,15.0),
    (9.9,32.0),(10.4,33.4),(10.9,38.0),(11.4,37.0),(11.9,30.0),(10.2,27.6),(10.7,26.6),(11.2,24.6),(11.7,32.0),(12.2,25.0),
]

band_export_high = [
    (12.0,20.4),(12.0,33.2),(12.0,44.0),(12.1,51.8),(12.1,27.3),(12.1,14.7),(12.2,38.6),(12.2,23.0),(12.2,9.8),(12.3,31.0),
    (12.3,42.6),(12.3,18.2),(12.4,47.6),(12.4,35.9),(12.4,26.1),(12.5,21.0),(12.5,39.8),(12.5,13.0),(12.6,11.0),(12.6,29.0),
    (12.6,45.4),(12.7,51.1),(12.7,7.8),(12.7,34.2),(12.8,24.3),(12.8,40.9),(12.8,17.5),(12.9,30.1),(12.9,37.0),(12.9,48.6),
    (13.0,22.2),(13.0,43.2),(13.0,15.8),(13.1,33.5),(13.1,27.0),(13.2,39.0),(13.2,19.6),(13.3,46.2),(13.3,30.5),(13.4,24.8),
    (13.4,36.2),(13.5,13.6),(13.5,41.6),(13.6,28.2),(13.6,21.3),(13.7,33.9),(13.8,44.5),(13.8,18.4),(13.9,49.0),(13.9,26.0),
    (14.0,13.3),(14.0,37.6),(14.1,30.8),(14.1,22.6),(14.2,15.5),(14.2,42.4),(14.3,27.8),(14.4,34.8),(14.4,19.0),(14.5,45.8),
    (14.6,24.6),(14.6,31.6),(14.7,41.8),(14.8,20.1),(14.8,36.0),(14.9,48.9),(14.9,27.4),(15.0,17.1),(15.1,40.8),(15.1,30.2),
    (15.2,48.3),(15.2,23.4),(15.3,35.0),(15.4,18.1),(15.4,27.2),(15.5,24.7),(15.5,43.0),(15.6,32.3),(15.7,38.2),(15.8,21.3),
    (15.9,29.5),(16.0,45.6),(16.1,33.8),(16.2,26.3),(16.3,40.0),(16.5,24.0),(16.5,37.4),(16.7,31.0),(17.0,37.9),(16.8,28.0),
    (12.0,37.6),(12.2,30.5),(12.4,16.3),(12.5,44.1),(12.7,28.2),(12.9,20.0),(13.1,46.0),(13.3,35.0),(13.5,32.0),(13.7,39.5),
    (13.9,30.0),(14.1,25.6),(14.3,38.5),(14.6,28.6),(14.9,33.0),(15.3,20.0),(12.1,24.0),(12.6,36.8),(13.0,26.3),(13.4,42.7),
    (13.8,23.0),(14.4,44.0),(15.0,36.4),(15.6,26.7),(12.3,21.5),(12.8,32.0),(13.2,12.0),(13.6,17.6),(14.5,16.5),(12.4,41.0),
]

band_export_core_d = [
    (12.05,26.0),(12.15,35.4),(12.25,41.8),(12.35,28.6),(12.45,33.6),(12.55,24.0),(12.65,38.6),(12.75,31.0),(12.85,44.0),(12.95,26.8),
    (13.05,35.6),(13.15,30.0),(13.25,41.0),(13.35,22.4),(13.45,38.0),(13.55,29.0),(13.65,44.6),(13.75,27.0),(13.85,36.0),(13.95,40.6),
    (14.05,28.0),(14.15,34.0),(14.25,20.0),(14.35,31.0),(14.45,40.0),(14.55,36.8),(14.65,22.0),(14.75,33.0),(14.85,43.6),(14.95,30.0),
    (12.2,18.6),(12.6,20.6),(13.0,37.8),(13.4,33.0),(13.8,31.6),(14.2,39.0),(14.6,45.0),(15.0,25.6),(15.4,34.0),(15.8,40.6),
    (12.1,30.0),(12.5,36.2),(12.9,23.0),(13.3,27.6),(13.7,25.0),(14.1,18.0),(14.5,30.0),(14.9,39.0),(15.3,29.0),(15.7,35.4),
    (12.6,32.6),(12.8,36.4),(13.0,30.0),(13.2,35.0),(13.4,28.0),(13.6,37.0),(13.8,34.0),(14.0,29.6),(14.2,35.6),(14.4,27.0),
    (14.6,38.6),(14.8,31.0),(15.0,33.6),(15.2,38.0),(15.4,31.0),(12.7,40.4),(13.1,41.6),(13.5,43.6),(13.9,42.0),(14.3,44.6),
    (12.9,33.6),(13.3,24.0),(13.7,30.6),(14.1,33.0),(14.5,24.0),(14.9,22.0),(15.3,41.6),(12.6,25.6),(13.0,20.0),(13.4,39.6),
    (13.8,28.6),(14.2,31.0),(14.6,35.0),(15.0,44.0),(15.5,29.0),(12.8,28.4),(13.2,32.0),(13.6,25.0),(14.0,40.0),(14.4,36.4),
]

# Polynomial trend line (thousand MWh)
trend_x = [-12.0, -10.0, -8.0, -6.0, -4.0, -2.0, 0.0, 2.0, 4.0, 6.0, 8.0, 10.0, 12.0, 14.0, 16.0, 16.8]
trend_y = [4.13, 5.48, 6.88, 8.36, 9.96, 11.69, 13.60, 15.71, 18.04, 20.64, 23.52, 26.73, 30.28, 34.22, 38.56, 40.3]
r_squared_label = "R² = 0,4245"

x_tick_vals = [-15000, -10000, -5000, 0, 5000, 10000, 15000, 20000]
x_tick_text = ["-15 000", "-10 000", "-5 000", "0", "5 000", "10 000", "15 000", "20 000"]
y_tick_vals = [0, 10000, 20000, 30000, 40000, 50000, 60000]
y_tick_text = ["0", "10 000", "20 000", "30 000", "40 000", "50 000", "60 000"]

all_points = (band_far_import + band_mid_import + band_near_import + band_import_core + band_import_dense
              + band_import_upper + band_export_0_3 + band_export_core_a + band_export_dense_a
              + band_export_3_6 + band_export_core_b + band_export_dense_b + band_export_6_9
              + band_export_core_c + band_export_9_12 + band_export_dense_c + band_export_high
              + band_export_core_d)
scatter_x = [p[0] * 1000 for p in all_points]
scatter_y = [p[1] * 1000 for p in all_points]

FONT = "Lato, 'Open Sans', sans-serif"
X_MIN, X_MAX = -15000, 20000

fig = go.Figure()
fig.add_trace(go.Scatter(
    x=scatter_x, y=scatter_y, mode="markers", name="Szél + Nap",
    marker=dict(symbol="square", size=3, color="#4bacc6",
                line=dict(width=0.5, color="#6a9aa6")),
))
fig.add_trace(go.Scatter(
    x=[v * 1000 for v in trend_x], y=[v * 1000 for v in trend_y],
    mode="lines", name="Polinom. (Szél + Nap)", line_shape="spline",
    line=dict(color="#0000ff", width=3),
))

fig.update_layout(
    width=806, height=551,
    margin=dict(l=23, r=13, t=75, b=45),
    paper_bgcolor="white", plot_bgcolor="white",
    font=dict(family=FONT, color="black"),
    title=dict(
        text="Nettó  export és a német nap-, szélenergia termelés  adatok<br>korelációjában [MWh/MWh]",
        x=0.4665, xanchor="center", y=0.951, yanchor="top",
        font=dict(size=20.5, family=FONT, weight="bold", color="black"),
    ),
    xaxis=dict(
        range=[X_MIN, X_MAX], tickvals=x_tick_vals, ticktext=x_tick_text, automargin=False,
        ticklabeloverflow="allow", ticklabelshift=-1,
        showgrid=False, zeroline=False, showline=True, linecolor="black", linewidth=2,
        ticks="outside", ticklen=5, tickcolor="black", tickwidth=1,
        tickfont=dict(size=9.5, weight="bold"),
    ),
    yaxis=dict(
        range=[0, 60000], tickvals=y_tick_vals, ticktext=y_tick_text, automargin=False,
        anchor="free", position=(0 - X_MIN) / (X_MAX - X_MIN),
        showgrid=True, gridcolor="#a6a6a6", gridwidth=1, zeroline=False,
        showline=True, linecolor="black", linewidth=2,
        ticks="outside", ticklen=4, tickcolor="black", tickwidth=1,
        tickfont=dict(size=10, weight="bold"),
    ),
    showlegend=True,
    legend=dict(
        orientation="h", xref="container", yref="container",
        x=230 / 806, xanchor="left", y=(551 - 543) / 551, yanchor="middle",
        font=dict(size=11, family=FONT), entrywidth=192, bgcolor="rgba(0,0,0,0)",
    ),
    annotations=[
        dict(text="Importálás", xref="paper", yref="paper", x=0.1357, y=0.951,
             xanchor="center", yanchor="middle", showarrow=False,
             font=dict(size=29, weight="bold", color="black")),
        dict(text="Exportálás", xref="paper", yref="paper", x=0.5578, y=0.947,
             xanchor="center", yanchor="middle", showarrow=False,
             font=dict(size=29, weight="bold", color="black")),
        dict(text=r_squared_label, xref="paper", yref="paper", x=0.9344, y=0.719,
             xanchor="center", yanchor="middle", showarrow=False,
             font=dict(size=17.5, weight="bold", color="#0000ff")),
    ],
)

fig.write_html("out.html")
